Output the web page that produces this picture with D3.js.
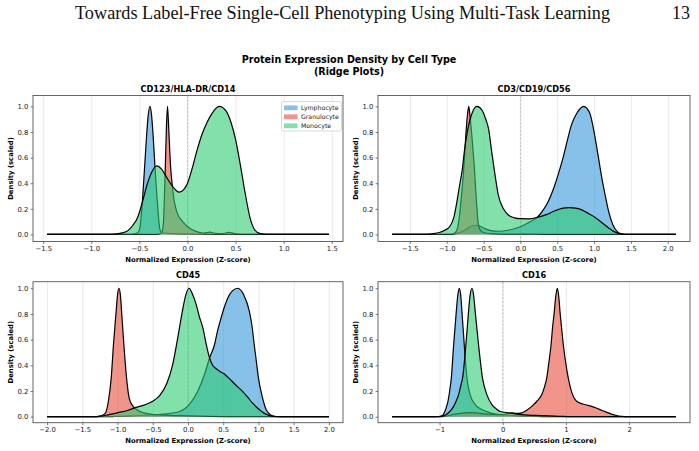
<!DOCTYPE html>
<html>
<head>
<meta charset="utf-8">
<script src="https://cdn.jsdelivr.net/npm/d3@7"></script>
<style>
body { margin: 0; background: #fff; }
text { font-family: "DejaVu Sans", sans-serif; }
</style>
</head>
<body>
<svg id="svg" width="699" height="451"></svg>
<script>
// cell types and colours
var cellTypes = ["Lymphocyte", "Granulocyte", "Monocyte"];
var typeColors = ["#3498db", "#e74c3c", "#2ecc71"];
var markerNames = ["CD123/HLA-DR/CD14", "CD3/CD19/CD56", "CD45", "CD16"];
var yTicks = [0, 0.2, 0.4, 0.6, 0.8, 1.0];

// CD123/HLA-DR/CD14  ([x, scaled density])
var cd14Lymph = [[-1.46,0],[-0.62,0],[-0.55,0.004],[-0.51,0.02],[-0.49,0.08],[-0.47,0.25],[-0.45,0.48],[-0.43,0.72],[-0.41,0.92],[-0.392,1.0],[-0.375,0.94],[-0.36,0.8],[-0.34,0.55],[-0.325,0.37],[-0.31,0.22],[-0.295,0.08],[-0.28,0.025],[-0.25,0.01],[-0.15,0.006],[0.0,0.004],[0.15,0.002],[0.3,0],[1.47,0]];
var cd14Gran = [[-1.46,0],[-0.34,0],[-0.29,0.004],[-0.265,0.02],[-0.25,0.1],[-0.24,0.3],[-0.23,0.55],[-0.22,0.82],[-0.208,1.0],[-0.196,0.84],[-0.185,0.66],[-0.176,0.53],[-0.165,0.43],[-0.155,0.36],[-0.14,0.27],[-0.12,0.2],[-0.10,0.155],[-0.06,0.11],[-0.02,0.075],[0.02,0.05],[0.07,0.03],[0.12,0.016],[0.17,0.01],[0.23,0.018],[0.29,0.008],[0.36,0.006],[0.43,0.016],[0.5,0.005],[0.6,0],[1.47,0]];
var cd14Mono = [[-1.46,0],[-0.82,0],[-0.74,0.004],[-0.68,0.012],[-0.62,0.03],[-0.57,0.07],[-0.52,0.13],[-0.47,0.25],[-0.42,0.39],[-0.37,0.49],[-0.32,0.535],[-0.27,0.51],[-0.22,0.45],[-0.17,0.39],[-0.12,0.345],[-0.085,0.33],[-0.04,0.35],[0.0,0.4],[0.05,0.52],[0.1,0.66],[0.15,0.78],[0.2,0.87],[0.25,0.94],[0.33,1.0],[0.4,0.965],[0.45,0.88],[0.5,0.74],[0.55,0.54],[0.6,0.32],[0.65,0.13],[0.7,0.035],[0.75,0.008],[0.82,0],[1.47,0]];
var cd14Ticks = [-1.5, -1.0, -0.5, 0.0, 0.5, 1.0, 1.5];

// CD3/CD19/CD56
var cd3Lymph = [[-1.74,0],[-0.95,0],[-0.85,0.01],[-0.75,0.035],[-0.65,0.068],[-0.58,0.072],[-0.5,0.05],[-0.4,0.03],[-0.3,0.025],[-0.15,0.035],[0.0,0.06],[0.12,0.095],[0.24,0.14],[0.32,0.2],[0.38,0.26],[0.47,0.39],[0.53,0.5],[0.58,0.6],[0.64,0.74],[0.69,0.85],[0.77,0.95],[0.86,1.0],[0.94,0.95],[1.01,0.77],[1.06,0.6],[1.1,0.46],[1.15,0.31],[1.19,0.2],[1.26,0.07],[1.32,0.02],[1.38,0.004],[1.45,0],[2.11,0]];
var cd3Gran = [[-1.74,0],[-0.96,0],[-0.9,0.008],[-0.86,0.035],[-0.83,0.13],[-0.8,0.3],[-0.77,0.5],[-0.74,0.78],[-0.715,0.95],[-0.70,1.0],[-0.685,0.93],[-0.66,0.78],[-0.64,0.64],[-0.625,0.53],[-0.61,0.38],[-0.595,0.25],[-0.575,0.1],[-0.55,0.04],[-0.5,0.015],[-0.4,0.006],[-0.2,0.003],[0.2,0.002],[0.5,0],[2.11,0]];
var cd3Mono = [[-1.74,0],[-1.3,0],[-1.2,0.005],[-1.1,0.015],[-1.02,0.035],[-0.96,0.06],[-0.9,0.14],[-0.86,0.26],[-0.82,0.4],[-0.79,0.5],[-0.76,0.65],[-0.72,0.8],[-0.66,0.94],[-0.59,1.0],[-0.52,0.97],[-0.47,0.9],[-0.43,0.82],[-0.39,0.65],[-0.34,0.45],[-0.3,0.31],[-0.23,0.2],[-0.16,0.15],[-0.08,0.13],[0.0,0.123],[0.12,0.122],[0.24,0.135],[0.35,0.155],[0.47,0.185],[0.58,0.205],[0.66,0.21],[0.75,0.205],[0.84,0.19],[0.92,0.165],[1.01,0.135],[1.1,0.095],[1.19,0.055],[1.28,0.02],[1.36,0.004],[1.45,0],[2.11,0]];
var cd3Ticks = [-1.5, -1.0, -0.5, 0.0, 0.5, 1.0, 1.5, 2.0];

// CD45
var cd45Lymph = [[-2,0],[-1.1,0],[-1.0,0.003],[-0.82,0.006],[-0.6,0.012],[-0.35,0.02],[-0.12,0.04],[0.02,0.095],[0.14,0.2],[0.235,0.33],[0.306,0.457],[0.376,0.56],[0.42,0.67],[0.47,0.77],[0.52,0.86],[0.565,0.925],[0.63,0.98],[0.706,1.0],[0.79,0.95],[0.871,0.82],[0.91,0.7],[0.94,0.56],[0.97,0.43],[1.0,0.3],[1.035,0.2],[1.07,0.12],[1.105,0.06],[1.14,0.03],[1.21,0.005],[1.3,0],[2,0]];
var cd45Gran = [[-2,0],[-1.32,0],[-1.25,0.004],[-1.2,0.015],[-1.17,0.03],[-1.13,0.12],[-1.09,0.3],[-1.058,0.56],[-1.02,0.82],[-1.0,0.95],[-0.98,1.0],[-0.96,0.95],[-0.943,0.82],[-0.91,0.56],[-0.872,0.3],[-0.835,0.145],[-0.78,0.08],[-0.68,0.04],[-0.54,0.02],[-0.35,0.012],[-0.12,0.008],[0.2,0.004],[0.5,0.001],[0.8,0],[2,0]];
var cd45Mono = [[-2,0],[-1.3,0],[-1.22,0.005],[-1.15,0.012],[-1.0,0.03],[-0.85,0.05],[-0.75,0.07],[-0.6,0.095],[-0.5,0.12],[-0.4,0.165],[-0.3,0.26],[-0.22,0.4],[-0.15,0.6],[-0.07,0.85],[-0.03,0.95],[0.015,1.0],[0.06,0.96],[0.118,0.87],[0.16,0.78],[0.212,0.69],[0.26,0.56],[0.306,0.457],[0.35,0.4],[0.4,0.373],[0.46,0.35],[0.52,0.33],[0.58,0.3],[0.635,0.27],[0.7,0.235],[0.776,0.195],[0.85,0.15],[0.917,0.105],[0.99,0.065],[1.06,0.035],[1.15,0.01],[1.25,0],[2,0]];
var cd45Ticks = [-2.0, -1.5, -1.0, -0.5, 0.0, 0.5, 1.0, 1.5, 2.0];

// CD16
var cd16Lymph = [[-1.75,0],[-1.05,0],[-0.97,0.005],[-0.925,0.03],[-0.895,0.07],[-0.867,0.12],[-0.84,0.2],[-0.814,0.3],[-0.777,0.56],[-0.735,0.82],[-0.71,0.95],[-0.688,1.0],[-0.666,0.95],[-0.646,0.82],[-0.609,0.56],[-0.567,0.3],[-0.515,0.17],[-0.436,0.094],[-0.331,0.055],[-0.2,0.03],[-0.015,0.015],[0.2,0.008],[0.5,0.003],[0.8,0],[2.74,0]];
var cd16Gran = [[-1.75,0],[-1.0,0],[-0.9,0.005],[-0.75,0.02],[-0.6,0.03],[-0.5,0.032],[-0.4,0.028],[-0.25,0.02],[-0.1,0.016],[0.0,0.015],[0.08,0.025],[0.14,0.03],[0.22,0.025],[0.3,0.03],[0.38,0.05],[0.459,0.08],[0.54,0.12],[0.617,0.17],[0.66,0.23],[0.696,0.3],[0.73,0.42],[0.765,0.56],[0.79,0.7],[0.817,0.82],[0.84,0.94],[0.864,1.0],[0.886,0.94],[0.906,0.82],[0.93,0.7],[0.959,0.56],[1.0,0.41],[1.038,0.3],[1.08,0.21],[1.117,0.158],[1.16,0.125],[1.222,0.106],[1.31,0.093],[1.406,0.08],[1.49,0.066],[1.564,0.05],[1.64,0.035],[1.72,0.02],[1.8,0.009],[1.88,0.003],[1.985,0],[2.74,0]];
var cd16Mono = [[-1.75,0],[-1.05,0],[-0.96,0.004],[-0.9,0.015],[-0.857,0.03],[-0.777,0.08],[-0.73,0.13],[-0.699,0.17],[-0.66,0.25],[-0.636,0.3],[-0.583,0.56],[-0.541,0.82],[-0.515,0.95],[-0.488,1.0],[-0.462,0.95],[-0.436,0.82],[-0.383,0.56],[-0.32,0.3],[-0.25,0.17],[-0.172,0.094],[-0.1,0.06],[-0.04,0.04],[0.09,0.03],[0.2,0.022],[0.3,0.016],[0.6,0.008],[0.9,0.003],[1.2,0],[2.74,0]];
var cd16Ticks = [-1, 0, 1, 2];

var svg = d3.select("#svg");
svg.append("rect").attr("width", 699).attr("height", 451).attr("fill", "#fff");

// page header
svg.append("text")
  .attr("x", 75).attr("y", 19)
  .attr("textLength", 535).attr("lengthAdjust", "spacingAndGlyphs")
  .style("font-family", "'Liberation Serif', 'DejaVu Serif', serif")
  .style("font-size", "18px").attr("fill", "#111")
  .text("Towards Label-Free Single-Cell Phenotyping Using Multi-Task Learning");
svg.append("text")
  .attr("x", 690).attr("y", 19).attr("text-anchor", "end")
  .style("font-family", "'Liberation Serif', 'DejaVu Serif', serif")
  .style("font-size", "18px").attr("fill", "#111")
  .text("13");

// figure title
svg.append("text").attr("x", 349).attr("y", 62.5).attr("text-anchor", "middle")
  .style("font-size", "9.6px").style("font-weight", "bold")
  .text("Protein Expression Density by Cell Type");
svg.append("text").attr("x", 349).attr("y", 74.5).attr("text-anchor", "middle")
  .style("font-size", "9.6px").style("font-weight", "bold")
  .text("(Ridge Plots)");

var panelData = [
  [cd14Lymph, cd14Gran, cd14Mono],
  [cd3Lymph, cd3Gran, cd3Mono],
  [cd45Lymph, cd45Gran, cd45Mono],
  [cd16Lymph, cd16Gran, cd16Mono]
];
var panelTicks = [cd14Ticks, cd3Ticks, cd45Ticks, cd16Ticks];

// axes boxes (pixels) and y limits
var boxes = [
  {l: 33, r: 343, t: 95.5, b: 241.5, ylim: [-0.055, 1.085]},
  {l: 378, r: 690, t: 95.5, b: 241.5, ylim: [-0.055, 1.085]},
  {l: 33, r: 343, t: 281.7, b: 422.7, ylim: [-0.047, 1.051]},
  {l: 378, r: 690, t: 281.7, b: 422.7, ylim: [-0.047, 1.051]}
];

boxes.forEach(function(box, p) {
  var curves = panelData[p];
  var allX = [];
  curves.forEach(function(c) { c.forEach(function(d) { allX.push(d[0]); }); });
  var ext = d3.extent(allX);
  var pad = (ext[1] - ext[0]) * 0.05;

  var x = d3.scaleLinear().domain([ext[0] - pad, ext[1] + pad]).range([box.l, box.r]);
  var y = d3.scaleLinear().domain(box.ylim).range([box.b, box.t]);
  var g = svg.append("g");

  // x grid
  g.append("g")
    .attr("transform", "translate(0," + box.b + ")")
    .call(d3.axisBottom(x).tickValues(panelTicks[p]).tickSize(-(box.b - box.t)).tickFormat(""))
    .call(function(a) {
      a.select(".domain").remove();
      a.selectAll("line").attr("stroke", "#b0b0b0").attr("stroke-opacity", 0.35).attr("stroke-width", 0.8);
    });

  // zero line
  g.append("line")
    .attr("x1", x(0)).attr("x2", x(0)).attr("y1", box.t).attr("y2", box.b)
    .attr("stroke", "#999").attr("stroke-opacity", 0.8).attr("stroke-width", 0.7)
    .attr("stroke-dasharray", "2.6,1.2");

  var area = d3.area().curve(d3.curveMonotoneX)
    .x(function(d) { return x(d[0]); })
    .y0(y(0))
    .y1(function(d) { return y(d[1]); });
  var line = d3.line().curve(d3.curveMonotoneX)
    .x(function(d) { return x(d[0]); })
    .y(function(d) { return y(d[1]); });

  curves.forEach(function(c, i) {
    g.append("path").datum(c).attr("d", area)
      .attr("fill", typeColors[i]).attr("fill-opacity", 0.6);
    g.append("path").datum(c).attr("d", line)
      .attr("fill", "none").attr("stroke", "#000").attr("stroke-width", 1.2);
  });

  // frame
  g.append("rect")
    .attr("x", box.l).attr("y", box.t)
    .attr("width", box.r - box.l).attr("height", box.b - box.t)
    .attr("fill", "none").attr("stroke", "#555").attr("stroke-width", 0.9);

  var fmt = p === 3 ? d3.format("d") : d3.format(".1f");

  // x axis
  g.append("g")
    .attr("transform", "translate(0," + box.b + ")")
    .call(d3.axisBottom(x).tickValues(panelTicks[p]).tickSize(2.4).tickPadding(2.2).tickFormat(fmt))
    .call(function(a) {
      a.select(".domain").remove();
      a.selectAll("line").attr("stroke", "#555").attr("stroke-width", 0.8);
      a.selectAll("text").attr("fill", "#222")
        .style("font-family", "'DejaVu Sans', sans-serif").style("font-size", "6.85px");
    });

  // y axis
  g.append("g")
    .attr("transform", "translate(" + box.l + ",0)")
    .call(d3.axisLeft(y).tickValues(yTicks).tickSize(2.4).tickPadding(2.2).tickFormat(d3.format(".1f")))
    .call(function(a) {
      a.select(".domain").remove();
      a.selectAll("line").attr("stroke", "#555").attr("stroke-width", 0.8);
      a.selectAll("text").attr("fill", "#222")
        .style("font-family", "'DejaVu Sans', sans-serif").style("font-size", "6.85px");
    });

  // titles and labels
  g.append("text")
    .attr("x", (box.l + box.r) / 2).attr("y", box.t - 4)
    .attr("text-anchor", "middle")
    .style("font-size", "8.2px").style("font-weight", "bold")
    .text(markerNames[p]);
  g.append("text")
    .attr("x", (box.l + box.r) / 2).attr("y", box.b + 20)
    .attr("text-anchor", "middle")
    .style("font-size", "6.85px").style("font-weight", "bold")
    .text("Normalized Expression (Z-score)");
  g.append("text")
    .attr("transform", "translate(" + (box.l - 22.5) + "," + ((box.t + box.b) / 2) + ") rotate(-90)")
    .attr("text-anchor", "middle").attr("dominant-baseline", "central")
    .style("font-size", "6.85px").style("font-weight", "bold")
    .text("Density (scaled)");

  // legend in the first panel
  if (p === 0) {
    var lg = g.append("g").attr("transform", "translate(281.5,101.5)");
    lg.append("rect").attr("width", 60).attr("height", 29.5).attr("rx", 1.5)
      .attr("fill", "#fff").attr("fill-opacity", 0.8)
      .attr("stroke", "#ccc").attr("stroke-width", 0.7);
    cellTypes.forEach(function(name, i) {
      var row = lg.append("g").attr("transform", "translate(0," + (6.2 + i * 9) + ")");
      row.append("rect").attr("x", 2.5).attr("y", -2.3).attr("width", 13.5).attr("height", 4.8)
        .attr("fill", typeColors[i]).attr("fill-opacity", 0.6);
      row.append("text").attr("x", 19.5).attr("y", 0).attr("dominant-baseline", "central")
        .style("font-size", "6.2px").attr("fill", "#222").text(name);
    });
  }
});
</script>
</body>
</html>
